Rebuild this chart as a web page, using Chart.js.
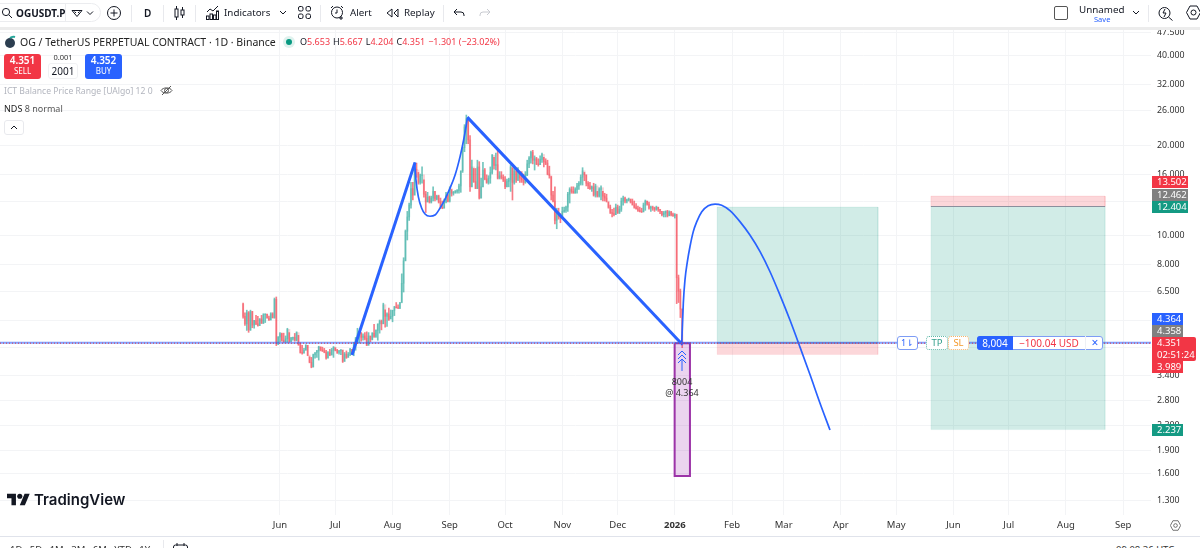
<!DOCTYPE html>
<html>
<head>
<meta charset="utf-8">
<title>OGUSDT.P</title>
<script src="https://cdn.jsdelivr.net/npm/chart.js@4/dist/chart.umd.min.js"></script>
<style>
  html, body { margin: 0; padding: 0; background: #fff; }
  #page { position: relative; width: 1200px; height: 548px; overflow: hidden; font-family: "Noto Sans", sans-serif; color: #131722; }
  #chart { position: absolute; left: 0; top: 0; }
  .t { position: absolute; white-space: nowrap; line-height: 14px; height: 14px; }
  .box { position: absolute; box-sizing: border-box; }
  svg.i { position: absolute; fill: none; stroke: #131722; stroke-width: 1; }
  .tag { position: absolute; left: 1152px; box-sizing: border-box; padding-left: 5px; white-space: nowrap; color: #fff; font: 9.5px/12px "Noto Sans", sans-serif; }
  .sep { position: absolute; width: 1px; background: #e8e9ed; top: 5px; height: 17px; }
</style>
</head>
<body>
<div id="page">
  <canvas id="chart" width="1200" height="536"></canvas>

  <!-- top toolbar -->
  <div class="box" style="left:-12px;top:3px;width:113px;height:19px;border:1px solid #ebecef;border-radius:10px"></div>
  <div class="sep" style="left:65px;top:3px;height:19px;background:#ebecef"></div>
  <svg class="i" style="left:1px;top:7px" width="12" height="12" viewBox="0 0 12 12"><circle cx="5" cy="5" r="3.6"/><path d="M8 8l3 3"/></svg>
  <div class="t" style="left:16px;top:6px;font-size:10px;font-weight:700">OGUSDT.P</div>
  <svg class="i" style="left:71px;top:8px" width="24" height="10" viewBox="0 0 24 10"><path d="M1 2.500h10l-5 6zM3.500 3.500l1.500 1.500M8.500 3.500l-1.500 1.500"/><path d="M16 3.500l3 3 3-3"/></svg>
  <svg class="i" style="left:107px;top:6px" width="14" height="14" viewBox="0 0 14 14"><circle cx="7" cy="7" r="6.500"/><path d="M7 3.500v7M3.500 7h7"/></svg>
  <div class="sep" style="left:131px"></div>
  <div class="t" style="left:144px;top:6px;font-size:10px;font-weight:600">D</div>
  <div class="sep" style="left:163px"></div>
  <svg class="i" style="left:174px;top:5px" width="11" height="16" viewBox="0 0 11 16"><rect x="1" y="4" width="3" height="8"/><path d="M2.500 1v3M2.500 12v3"/><rect x="7" y="5" width="3" height="5"/><path d="M8.500 2v3M8.500 10v3"/></svg>
  <div class="sep" style="left:195px"></div>
  <svg class="i" style="left:206px;top:5px" width="13" height="15" viewBox="0 0 13 15"><path d="M1 7l3-3 3 2 5-5"/><rect x=".5" y="11" width="2.500" height="3.500"/><rect x="4" y="9" width="2.500" height="5.500"/><rect x="7.500" y="10" width="2.500" height="4.500"/><rect x="10.500" y="6" width="2" height="8.500"/></svg>
  <div class="t" style="left:224px;top:6px;font-size:9.800px">Indicators</div>
  <svg class="i" style="left:279px;top:10px" width="8" height="5" viewBox="0 0 8 5"><path d="M1 1l3 3 3-3"/></svg>
  <svg class="i" style="left:298px;top:6px" width="13" height="13" viewBox="0 0 13 13"><rect x=".5" y=".5" width="4.500" height="4.500" rx="1.500"/><rect x="8" y=".5" width="4.500" height="4.500" rx="1.500"/><rect x=".5" y="8" width="4.500" height="4.500" rx="1.500"/><rect x="8" y="8" width="4.500" height="4.500" rx="1.500"/></svg>
  <div class="sep" style="left:320px"></div>
  <svg class="i" style="left:330px;top:5px" width="15" height="16" viewBox="0 0 15 16"><circle cx="7" cy="7.500" r="5.500"/><path d="M7 4.500v3.500h-2M1 3l2-2M11 1l2 2M11 11v4M9 13h4"/></svg>
  <div class="t" style="left:350px;top:6px;font-size:9.800px">Alert</div>
  <svg class="i" style="left:386px;top:8px" width="13" height="10" viewBox="0 0 13 10"><path d="M6 1L1 5l5 4zM12 1L8 5l4 4z"/></svg>
  <div class="t" style="left:404px;top:6px;font-size:9.800px">Replay</div>
  <div class="sep" style="left:443px"></div>
  <svg class="i" style="left:453px;top:8px" width="12" height="9" viewBox="0 0 12 9"><path d="M4 1L1 4l3 3M1 4h7a3 3 0 0 1 3 3v1"/></svg>
  <svg class="i" style="left:479px;top:8px;stroke:#c8cad0" width="12" height="9" viewBox="0 0 12 9"><path d="M8 1l3 3-3 3M11 4H4a3 3 0 0 0-3 3v1"/></svg>
  <div class="box" style="left:1054px;top:6px;width:14px;height:14px;border:1.500px solid #555;border-radius:2px"></div>
  <div class="t" style="left:1079px;top:3px;font-size:9.800px">Unnamed</div>
  <div class="t" style="left:1094px;top:12px;font-size:7.500px;color:#2962ff">Save</div>
  <svg class="i" style="left:1132px;top:10px" width="8" height="5" viewBox="0 0 8 5"><path d="M1 1l3 3 3-3"/></svg>
  <div class="sep" style="left:1148px"></div>
  <svg class="i" style="left:1158px;top:5px" width="15" height="16" viewBox="0 0 15 16"><circle cx="6.500" cy="8" r="5.500"/><path d="M10.500 12l4 3.500M7 4L5 8h3l-2 4"/></svg>
  <svg class="i" style="left:1186px;top:5px" width="15" height="15" viewBox="0 0 15 15"><path d="M4 1h7l3.500 6.500L11 14H4L.5 7.500z"/><circle cx="7.500" cy="7.500" r="2.500"/></svg>
  <div class="box" style="left:0;top:27px;width:1200px;height:3px;background:#ececec"></div>

  <!-- symbol legend -->
  <svg style="position:absolute;left:4px;top:35px" width="12" height="14" viewBox="0 0 12 14"><circle cx="6" cy="8" r="5" fill="#2c3e50"/><path d="M6 3a5 5 0 0 1 5-1" stroke="#26a69a" stroke-width="2" fill="none"/></svg>
  <div class="t" id="title" style="left:20px;top:35px;font-size:10.500px;color:#222">OG / TetherUS PERPETUAL CONTRACT · 1D · Binance</div>
  <div class="box" style="left:283px;top:36px;width:12px;height:12px;border-radius:6px;background:#dff2ee"></div>
  <div class="box" style="left:286px;top:39px;width:6px;height:6px;border-radius:3px;background:#089981"></div>
  <div class="t" style="left:300px;top:35px;font-size:9px;color:#f23645"><span style="color:#131722">O</span>5.653<span style="color:#131722;margin-left:3px">H</span>5.667<span style="color:#131722;margin-left:3px">L</span>4.204<span style="color:#131722;margin-left:3px">C</span>4.351<span style="margin-left:3px">−1.301 (−23.02%)</span></div>

  <!-- quick trade buttons -->
  <div class="box" style="left:4px;top:54px;width:37px;height:25px;background:#f23645;border-radius:3px"></div>
  <div class="t" style="left:4px;top:53px;width:37px;text-align:center;color:#fff;font-size:10px;font-weight:600">4.351</div>
  <div class="t" style="left:4px;top:64px;width:37px;text-align:center;color:#fff;font-size:8px">SELL</div>
  <div class="t" style="left:48px;top:50px;width:30px;text-align:center;font-size:7.500px;color:#333">0.001</div>
  <div class="box" style="left:48px;top:63px;width:30px;height:16px;border:1px solid #f0f1f3;border-radius:3px"></div>
  <div class="t" style="left:48px;top:64px;width:30px;text-align:center;font-size:10px">2001</div>
  <div class="box" style="left:85px;top:54px;width:37px;height:25px;background:#2962ff;border-radius:3px"></div>
  <div class="t" style="left:85px;top:53px;width:37px;text-align:center;color:#fff;font-size:10px;font-weight:600">4.352</div>
  <div class="t" style="left:85px;top:64px;width:37px;text-align:center;color:#fff;font-size:8px">BUY</div>

  <!-- indicator rows -->
  <div class="t" style="left:4px;top:84px;font-size:8.600px;color:#b2b5be">ICT Balance Price Range [UAlgo] 12 0</div>
  <svg class="i" style="left:160px;top:85px;stroke:#555" width="13" height="11" viewBox="0 0 13 11"><path d="M1 5.500C3 2 10 2 12 5.500 10 9 3 9 1 5.500z"/><circle cx="6.500" cy="5.500" r="2"/><path d="M2 10L11 1"/></svg>
  <div class="t" style="left:4px;top:102px;font-size:9px;color:#555"><span style="color:#222">NDS</span> 8 normal</div>
  <div class="box" style="left:4px;top:120px;width:20px;height:15px;border:1px solid #e8e9ed;border-radius:3px"></div>
  <svg class="i" style="left:10px;top:125px" width="8" height="5" viewBox="0 0 8 5"><path d="M1 4l3-3 3 3"/></svg>

  <!-- filled order marker -->
  <svg class="i" style="left:677px;top:350px;stroke:#2962ff" width="10" height="22" viewBox="0 0 10 22"><path d="M1 5l4-4 4 4M1 9l4-4 4 4M1 13l4-4 4 4M5 9v12"/></svg>
  <div class="t" style="left:662px;top:375px;width:40px;text-align:center;font-size:9px;color:#333">8004</div>
  <div class="t" style="left:652px;top:386px;width:60px;text-align:center;font-size:9px;color:#333">@ 4.364</div>

  <!-- open position widget -->
  <div class="box" style="left:897px;top:336px;width:21px;height:14px;background:#fff;border:1px solid #7d9cf5;border-radius:3px"></div>
  <div class="t" style="left:897px;top:336px;width:21px;text-align:center;font-size:9px;color:#2962ff">1⇂</div>
  <div class="box" style="left:926px;top:336px;width:22px;height:14px;background:#fff;border:1px dotted #5fb8a8;border-radius:3px"></div>
  <div class="t" style="left:926px;top:336px;width:22px;text-align:center;font-size:9.500px;color:#2f9e8a">TP</div>
  <div class="box" style="left:948px;top:336px;width:21px;height:14px;background:#fff;border:1px dotted #f7b267;border-radius:3px"></div>
  <div class="t" style="left:948px;top:336px;width:21px;text-align:center;font-size:9.500px;color:#f39a2d">SL</div>
  <div class="box" style="left:977px;top:336px;width:126px;height:14px;background:#fff;border:1px solid #7d9cf5;border-radius:3px"></div>
  <div class="box" style="left:977px;top:336px;width:36px;height:14px;background:#2962ff;border-radius:3px 0 0 3px"></div>
  <div class="t" style="left:977px;top:336px;width:36px;text-align:center;font-size:10px;color:#fff">8,004</div>
  <div class="t" style="left:1013px;top:336px;width:72px;text-align:center;font-size:10px;color:#f23645">−100.04 USD</div>
  <div class="t" style="left:1085px;top:336px;width:18px;text-align:center;font-size:12px;color:#2962ff;border-left:1px solid #eef0f5">×</div>

  <!-- right axis price tags -->
  <div id="tags"></div>

  <!-- watermark -->
  <svg style="position:absolute;left:7px;top:492px" width="23" height="15" viewBox="0 3 36 20"><path d="M14 22H7V11H0V4h14v18zM28 22h-8l7.500-18h8L28 22z" fill="#131722"/><circle cx="20" cy="8" r="4" fill="#131722"/></svg>
  <div class="t" style="left:34px;top:490px;height:20px;font:600 15px/20px Inter,sans-serif">TradingView</div>

  <!-- bottom strip, cut by the window edge -->
  <div class="box" style="left:0;top:536px;width:1200px;height:1px;background:#e0e3eb"></div>
  <div class="t" style="left:10px;top:543px;font-size:9.500px;color:#333;word-spacing:5px">1D 5D 1M 3M 6M YTD 1Y</div>
  <div class="sep" style="left:163px;top:540px"></div>
  <svg class="i" style="left:173px;top:543px" width="15" height="12" viewBox="0 0 15 12"><rect x=".5" y="2" width="14" height="10" rx="2"/><path d="M4 0v3M11 0v3"/></svg>
  <div class="t" style="left:1116px;top:543px;font-size:9.500px;color:#333">09:08:36 UTC</div>
  <svg class="i" style="left:1170px;top:520px;stroke:#444" width="11" height="11" viewBox="0 0 15 15"><path d="M4 1h7l3.500 6.500L11 14H4L.5 7.500z"/><circle cx="7.500" cy="7.500" r="2.500"/></svg>
</div>

<script>
// price levels of the two position tools and the live quote
const lastPrice = 4.351;
const avgEntry = 4.364;
const longEntry = 4.358;
const longTarget = 12.404;
const longStop = 3.989;
const shortEntry = 12.462;
const shortTarget = 2.237;
const shortStop = 13.502;

// x axis is days counted from 1 Jun 2025
const monthDays = [0, 30, 61, 92, 122, 153, 183, 214, 245, 273, 304, 334, 365, 395, 426, 457];
const monthLabels = ["Jun", "Jul", "Aug", "Sep", "Oct", "Nov", "Dec", "2026", "Feb", "Mar", "Apr", "May", "Jun", "Jul", "Aug", "Sep"];
const priceTicks = [47.5, 40, 32, 26, 20, 16, 13, 10, 8, 6.5, 5.2, 4.2, 3.4, 2.8, 2.3, 1.9, 1.6, 1.3];

// daily candles, each one opens where the previous closed
const firstDay = -20;
const firstOpen = 5.88;
const closes = [
  5.35, 5.05, 5.50, 4.82, 5.55, 5.00, 5.17, 5.05, 4.98, 5.24,
  5.08, 5.42, 5.44, 5.28, 5.20, 5.45, 5.30, 6.10, 4.34, 4.56,
  4.68, 4.45, 4.40, 4.50, 4.84, 4.42, 4.52, 4.55, 4.45, 4.72,
  4.30, 4.05, 4.03, 4.12, 4.28, 3.97, 3.76, 3.62, 3.98, 4.05,
  4.10, 4.23, 4.13, 4.10, 4.06, 3.88, 4.05, 3.97, 4.12, 4.22,
  4.12, 4.05, 4.10, 4.14, 3.78, 4.00, 3.90, 4.00, 4.15, 4.05,
  4.30, 4.50, 4.68, 4.72, 4.55, 4.60, 4.52, 4.28, 4.60, 4.48,
  4.70, 4.58, 4.80, 5.05, 5.15, 5.05, 5.85, 5.35, 5.45, 5.22,
  5.35, 5.60, 5.75, 5.72, 5.70, 5.93, 6.90, 8.20, 10.30, 11.50,
  12.60, 14.30, 13.60, 16.60, 16.50, 15.00, 15.80, 15.90, 13.70, 12.90,
  13.40, 12.90, 13.30, 14.00, 13.20, 13.50, 12.90, 12.40, 12.30, 12.90,
  13.60, 13.00, 14.30, 13.80, 13.90, 14.00, 14.10, 14.60, 16.40, 19.60,
  23.00, 24.50, 20.80, 14.50, 16.90, 15.10, 14.30, 16.90, 13.30, 14.50,
  16.50, 15.40, 15.00, 15.50, 16.20, 18.50, 17.10, 17.20, 15.50, 15.80,
  15.60, 15.30, 14.50, 15.10, 15.30, 16.90, 15.00, 16.40, 15.30, 16.30,
  15.50, 15.30, 15.00, 15.90, 17.30, 18.10, 18.90, 17.80, 18.00, 17.30,
  17.20, 17.90, 18.60, 17.60, 17.40, 16.00, 15.80, 13.60, 13.00, 11.20,
  11.90, 11.50, 11.40, 12.00, 12.10, 12.40, 13.70, 14.20, 14.00, 13.80,
  14.20, 14.60, 14.90, 15.60, 16.40, 15.90, 14.90, 14.60, 14.30, 14.50,
  13.60, 14.60, 13.50, 14.20, 14.40, 13.50, 13.30, 13.00, 12.40, 11.90,
  11.80, 11.70, 12.40, 11.90, 12.20, 13.00, 13.30, 13.00, 13.10, 13.20,
  12.90, 12.60, 12.40, 12.25, 12.10, 12.00, 11.95, 12.60, 13.00, 12.70,
  12.30, 12.40, 12.30, 12.20, 12.40, 12.20, 12.00, 11.70, 11.85, 12.00,
  11.60, 11.95, 11.70, 11.60, 11.70, 7.20, 6.50, 5.653, 4.351,
];
const highs = [
  5.92, 5.50, 5.61, 5.55, 5.61, 5.56, 5.19, 5.39, 5.35, 5.26,
  5.39, 5.46, 5.46, 5.44, 5.36, 5.50, 5.50, 6.16, 6.21, 4.58,
  4.72, 4.70, 4.70, 4.60, 4.88, 4.72, 4.55, 4.56, 4.69, 4.75,
  4.62, 4.36, 4.28, 4.18, 4.30, 4.28, 3.92, 3.90, 4.00, 4.05,
  4.12, 4.25, 4.23, 4.22, 4.18, 4.12, 4.08, 4.15, 4.18, 4.24,
  4.20, 4.15, 4.12, 4.14, 4.12, 4.05, 4.10, 4.05, 4.18, 4.15,
  4.38, 4.55, 4.88, 4.74, 4.72, 4.68, 4.72, 4.75, 4.72, 4.60,
  4.72, 5.03, 4.82, 5.05, 5.20, 5.20, 5.92, 5.62, 5.50, 5.70,
  5.62, 5.61, 5.78, 5.95, 5.85, 5.96, 7.42, 8.40, 10.40, 12.00,
  12.80, 15.00, 15.00, 17.40, 17.40, 16.20, 16.00, 16.90, 15.30, 14.00,
  13.90, 13.50, 13.50, 14.50, 14.00, 13.60, 13.60, 13.30, 13.00, 13.20,
  13.90, 13.70, 14.50, 14.20, 14.00, 14.10, 14.20, 14.80, 16.40, 19.70,
  23.40, 25.20, 24.70, 21.50, 17.80, 16.70, 16.70, 17.80, 17.60, 15.50,
  17.50, 16.70, 15.90, 15.80, 16.90, 18.60, 18.20, 18.80, 19.30, 16.30,
  16.30, 15.90, 15.70, 15.40, 15.50, 17.10, 16.80, 16.80, 16.40, 16.80,
  16.00, 16.30, 16.00, 16.30, 17.80, 18.30, 19.10, 19.20, 18.40, 18.20,
  18.00, 18.40, 18.80, 18.20, 18.00, 17.80, 17.00, 15.70, 14.00, 14.50,
  12.30, 12.30, 11.80, 12.40, 12.40, 12.50, 13.90, 14.40, 14.50, 14.50,
  14.40, 14.90, 15.10, 15.90, 16.80, 16.20, 15.90, 15.10, 15.00, 14.60,
  14.90, 14.80, 14.00, 14.40, 14.60, 14.00, 13.80, 13.70, 12.90, 12.60,
  12.20, 12.30, 12.70, 12.60, 12.50, 13.30, 13.50, 13.40, 13.20, 13.30,
  13.20, 13.20, 13.00, 12.75, 12.50, 12.40, 12.30, 12.80, 13.10, 13.00,
  12.90, 12.50, 12.50, 12.40, 12.50, 12.40, 12.20, 12.00, 12.00, 12.05,
  12.10, 12.05, 12.00, 11.85, 11.80, 11.75, 7.35, 6.60, 5.667,
];
const lows = [
  5.27, 4.99, 4.80, 4.73, 4.80, 4.90, 4.88, 5.02, 4.96, 4.98,
  5.06, 5.06, 5.10, 5.27, 5.18, 5.20, 5.28, 5.27, 4.27, 4.30,
  4.40, 4.42, 4.38, 4.38, 4.38, 4.38, 4.40, 4.45, 4.42, 4.43,
  4.28, 4.03, 4.00, 4.03, 4.12, 3.95, 3.74, 3.60, 3.62, 3.88,
  3.90, 3.82, 4.10, 4.08, 4.04, 3.85, 3.88, 3.95, 3.97, 3.90,
  4.10, 4.02, 4.00, 3.98, 3.75, 3.78, 3.87, 3.90, 3.95, 4.00,
  3.95, 4.12, 4.35, 4.36, 4.42, 4.45, 4.46, 4.27, 4.28, 4.40,
  4.46, 4.55, 4.55, 4.45, 4.70, 4.82, 5.05, 4.92, 4.95, 5.18,
  5.25, 5.13, 5.38, 5.70, 5.68, 5.68, 5.95, 6.45, 8.20, 9.63,
  11.20, 12.30, 13.10, 13.60, 15.60, 14.80, 14.80, 14.90, 13.40, 11.90,
  12.90, 12.80, 12.80, 13.00, 13.00, 13.10, 12.80, 12.30, 12.25, 12.30,
  12.80, 12.90, 12.90, 13.50, 13.60, 13.80, 13.80, 13.80, 13.90, 16.20,
  19.00, 20.20, 20.20, 14.00, 14.50, 15.00, 14.30, 14.30, 13.20, 13.30,
  14.50, 15.30, 14.90, 14.80, 14.90, 16.00, 16.60, 16.50, 15.40, 15.40,
  15.40, 15.10, 14.30, 14.50, 14.50, 14.00, 13.10, 14.80, 15.00, 15.20,
  15.00, 15.00, 14.70, 14.90, 15.80, 16.80, 17.40, 17.30, 16.50, 17.20,
  17.00, 17.20, 17.50, 16.90, 17.20, 15.90, 15.50, 13.10, 12.90, 10.90,
  10.50, 11.30, 11.00, 11.40, 11.90, 11.90, 12.00, 12.80, 13.80, 13.80,
  13.80, 13.80, 14.20, 14.70, 14.70, 15.20, 14.60, 14.30, 14.20, 14.00,
  13.50, 13.40, 13.40, 13.40, 13.10, 13.00, 13.00, 12.90, 12.30, 11.80,
  11.50, 11.60, 11.70, 11.80, 11.80, 12.00, 12.60, 12.80, 12.80, 13.00,
  12.80, 12.60, 12.30, 12.20, 12.00, 11.95, 11.90, 11.95, 12.10, 12.60,
  12.20, 12.00, 12.10, 12.00, 12.10, 12.00, 11.80, 11.60, 11.50, 11.50,
  11.50, 11.60, 11.60, 11.55, 11.40, 5.90, 5.95, 5.30, 4.204,
];

// hand drawn trend lines and arcs
const riseDays = [39, 73.2];
const risePrices = [3.97, 17.5];
const cupDays = [73, 73.7, 75, 76.8, 78.6, 81.3, 84, 86.7, 89.4, 92.1, 94.9, 97.6, 99.7, 101.5];
const cupPrices = [17.46, 15.28, 13.42, 12.3, 11.76, 11.56, 11.67, 12.3, 13.17, 14.33, 15.88, 18.3, 21.05, 24.45];
const fallDays = [101.5, 217.3];
const fallPrices = [24.8, 4.356];
const arcDays = [217.7, 218.6, 219.5, 220.8, 222.2, 224, 225.9, 228.6, 232.1, 235.8, 239.4, 243.9, 249.3, 254.7, 260.2, 265.6, 271, 276.4, 281.8, 287.3, 292.7, 298.1];
const arcPrices = [4.28, 5.92, 7.08, 8.15, 9.14, 10.27, 11.09, 11.97, 12.54, 12.7, 12.58, 12.07, 11.09, 10, 8.8, 7.54, 6.3, 5.2, 4.23, 3.41, 2.74, 2.23];

// span in days of the boxes on the chart
const longSpan = [236.9, 324.1];
const shortSpan = [352.8, 447.2];
const markerSpan = [213.9, 222.2];
const markerBottom = 1.565;

const BLUE = "#2962ff";
const GRID = "#f3f4f6";
const TEAL_FILL = "rgba(8,153,129,.19)";
const RED_FILL = "rgba(242,54,69,.2)";
const X_MIN = -151.76, X_MAX = 472.09;

const opens = closes.map((c, i) => (i ? closes[i - 1] : firstOpen));
const candleDays = closes.map((c, i) => firstDay + i);
const wickColor = closes.map((c, i) => (c >= opens[i] ? "rgba(38,166,154,.65)" : "rgba(242,54,69,.65)"));
const bodyColor = closes.map((c, i) => (c >= opens[i] ? "rgba(38,166,154,.22)" : "rgba(242,54,69,.22)"));

const pts = (xs, ys) => xs.map((x, i) => ({ x, y: ys[i] }));

function line(xs, ys, color, width) {
  return { type: "line", data: pts(xs, ys), borderColor: color, borderWidth: width, pointRadius: 0, tension: 0, fill: false };
}

function rect(span, hi, lo, fill, edge, width = 1) {
  const [a, b] = span;
  return {
    type: "line",
    data: pts([a, b, b, a, a], [hi, hi, lo, lo, hi]),
    borderColor: edge, borderWidth: width, backgroundColor: fill,
    pointRadius: 0, tension: 0, fill: "shape",
  };
}

const cup = line(cupDays, cupPrices, BLUE, 1.7);
cup.cubicInterpolationMode = "monotone";
const arc = line(arcDays, arcPrices, BLUE, 1.7);
arc.cubicInterpolationMode = "monotone";
const lastLine = line([X_MIN, X_MAX], [lastPrice, lastPrice], "#d9364f", 1);
lastLine.borderDash = [1, 2];

new Chart(document.getElementById("chart"), {
  data: {
    datasets: [
      lastLine,
      line([X_MIN, X_MAX], [avgEntry, avgEntry], "rgba(41,98,255,.6)", 2),
      line(riseDays, risePrices, BLUE, 3),
      cup,
      line(fallDays, fallPrices, BLUE, 3),
      arc,
      line(longSpan, [longEntry, longEntry], "#8a8f9c", 1),
      line(shortSpan, [shortEntry, shortEntry], "#8a8f9c", 1),
      rect(markerSpan, lastPrice, markerBottom, "rgba(156,39,176,.2)", "#9c34a8", 2),
      {
        type: "bar", grouped: false, barThickness: 1,
        data: candleDays.map((x, i) => ({ x, y: [lows[i], highs[i]] })),
        backgroundColor: wickColor,
      },
      {
        type: "bar", grouped: false, barThickness: 1.5,
        data: candleDays.map((x, i) => ({ x, y: [opens[i], closes[i]] })),
        backgroundColor: bodyColor,
      },
      rect(longSpan, longTarget, longEntry, TEAL_FILL, "rgba(8,153,129,.08)"),
      rect(longSpan, longEntry, longStop, RED_FILL, "rgba(242,54,69,.06)"),
      rect(shortSpan, shortEntry, shortTarget, TEAL_FILL, "rgba(8,153,129,.06)"),
      rect(shortSpan, shortStop, shortEntry, RED_FILL, "rgba(242,54,69,.1)"),
    ],
  },
  options: {
    responsive: false,
    animation: false,
    layout: { padding: { top: 30, left: 0, right: 0, bottom: 0 } },
    plugins: { legend: { display: false }, tooltip: { enabled: false } },
    scales: {
      x: {
        type: "linear", offset: false, min: X_MIN, max: X_MAX,
        afterBuildTicks: (s) => { s.ticks = monthDays.map((value) => ({ value })); },
        afterFit: (s) => { s.height = 21; },
        border: { display: false },
        grid: { color: GRID, offset: false, drawTicks: false },
        ticks: {
          autoSkip: false, maxRotation: 0, padding: 5, color: "#333",
          font: (ctx) => ({ family: "Noto Sans", size: 9.5, weight: monthLabels[ctx.index] === "2026" ? "700" : "400" }),
          callback: (v, i) => monthLabels[i],
        },
      },
      y: {
        type: "logarithmic", position: "right", min: 1.159, max: 48.5,
        afterBuildTicks: (s) => { s.ticks = priceTicks.map((value) => ({ value })); },
        afterFit: (s) => { s.width = 49; },
        border: { display: false },
        grid: { color: GRID, drawTicks: false },
        ticks: {
          autoSkip: false, padding: 6, color: "#333",
          font: { family: "Noto Sans", size: 8.8 },
          callback: (v) => Number(v).toFixed(3),
        },
      },
    },
  },
});

// tags on the price axis are stacked so they do not overlap
const priceTags = [
  { text: shortStop.toFixed(3), bg: "#f23645", top: 176, w: 36 },
  { text: shortEntry.toFixed(3), bg: "#808080", top: 188.5, w: 36 },
  { text: longTarget.toFixed(3), bg: "#149a83", top: 201, w: 36 },
  { text: avgEntry.toFixed(3), bg: BLUE, top: 313, w: 31 },
  { text: longEntry.toFixed(3), bg: "#808080", top: 325, w: 31 },
  { text: longStop.toFixed(3), bg: "#f23645", top: 361, w: 31 },
  { text: shortTarget.toFixed(3), bg: "#149a83", top: 423.5, w: 31 },
];
const tagsEl = document.getElementById("tags");
tagsEl.innerHTML = priceTags
  .map((t) => `<div class="tag" style="top:${t.top}px;width:${t.w}px;height:12px;background:${t.bg}">${t.text}</div>`)
  .join("") +
  `<div class="tag" style="top:337px;width:44px;height:24px;background:#f23645;border-radius:0 2px 2px 0">${lastPrice.toFixed(3)}<br>02:51:24</div>`;
</script>
</body>
</html>
